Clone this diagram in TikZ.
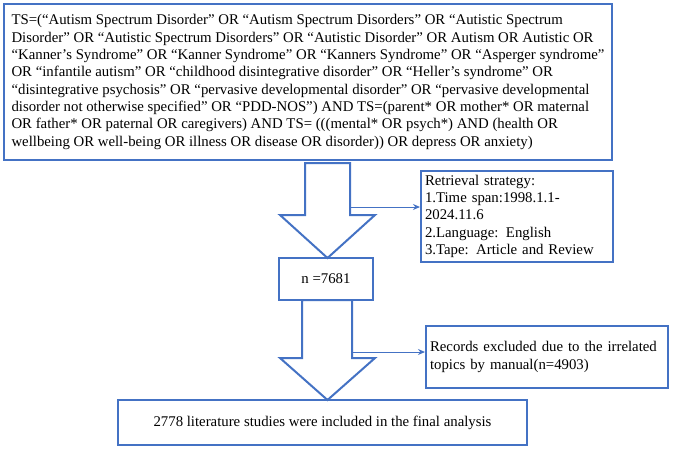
\documentclass[tikz,border=0pt]{standalone}
\usepackage{fontspec}
\setmainfont{Liberation Serif}
\usetikzlibrary{arrows.meta}
\begin{document}
\begin{tikzpicture}[x=1pt,y=-1pt,
  box/.style={line width=2pt,inner sep=4pt},
  harrow/.style={line width=2pt,fill=white,line join=miter},
  con/.style={line width=1pt,-{Stealth[length=7pt,width=6pt]}},
  txt/.style={font=\fontsize{14.8}{17.3}\selectfont,align=left}]
\useasboundingbox (0,0) rectangle (685,451);
\definecolor{bl}{RGB}{68,114,196}
\node[box,txt,draw=bl,minimum width=608pt,minimum height=156pt,anchor=north west,inner xsep=5pt] (top) at (3,3) {TS=(“Autism Spectrum Disorder" OR “Autism Spectrum Disorders" OR “Autistic Spectrum\\Disorder" OR “Autistic Spectrum Disorders" OR “Autistic Disorder" OR Autism OR Autistic OR\\“Kanner's Syndrome" OR “Kanner Syndrome" OR “Kanners Syndrome" OR “Asperger syndrome"\\OR “infantile autism” OR “childhood disintegrative disorder” OR “Heller’s syndrome” OR\\“disintegrative psychosis” OR “pervasive developmental disorder” OR “pervasive developmental\\disorder not otherwise specified” OR “PDD-NOS”) AND TS=(parent* OR mother* OR maternal\\OR father* OR paternal OR caregivers) AND TS= (((mental* OR psych*) AND (health OR\\wellbeing OR well-being OR illness OR disease OR disorder)) OR depress OR anxiety)};
% arrow 1
\draw[harrow,draw=bl] (305,163) -- (350,163) -- (350,215) -- (375,215) -- (327.5,258) -- (280,215) -- (305,215) -- cycle;
\node[box,draw=bl,txt,minimum width=94pt,minimum height=42pt] (n) at (326,279) {n =7681};
% arrow 2
\draw[harrow,draw=bl] (302,300) -- (352,300) -- (352,358) -- (375,358) -- (327.5,400) -- (280,358) -- (302,358) -- cycle;
\node[box,draw=bl,txt,anchor=north west,minimum width=192pt,minimum height=77pt,text width=184pt] (ret) at (420,170) {Retrieval strategy:\\1.Time span:1998.1.1-2024.11.6\\2.Language: English\\3.Tape: Article and Review};
\node[box,draw=bl,txt,anchor=north west,minimum width=242pt,minimum height=62pt,text width=234pt] (rec) at (425,325) {Records excluded due to the irrelated\\topics by manual(n=4903)};
\node[box,draw=bl,txt,minimum width=409pt,minimum height=45pt] (fin) at (322.5,422.5) {2778 literature studies were included in the final analysis};
\coordinate (a1) at (350,207);
\coordinate (a2) at (352,352);
\draw[con,draw=bl] (a1) -- (ret.west |- a1);
\draw[con,draw=bl] (a2) -- (rec.west |- a2);
\end{tikzpicture}
\end{document}
